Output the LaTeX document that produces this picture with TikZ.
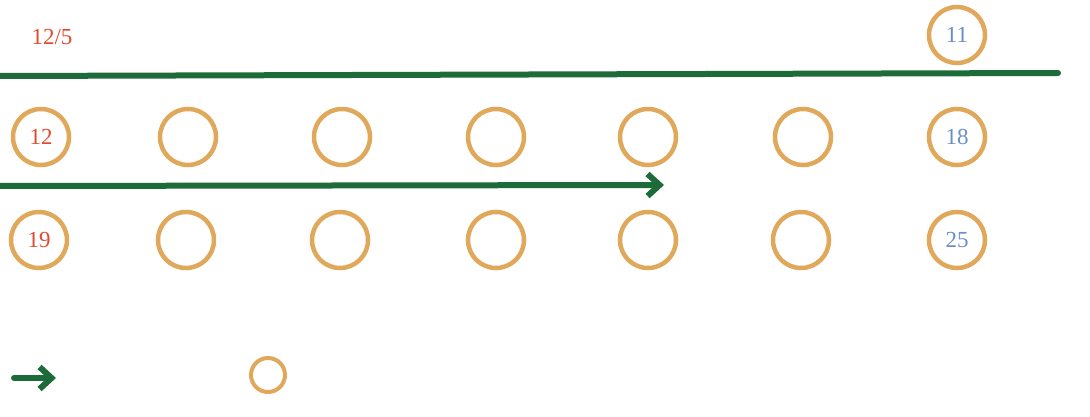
\documentclass[tikz,border=0pt]{standalone}
\usepackage{fontspec}
\setmainfont{Liberation Serif}
\usepackage{tikz}
\usetikzlibrary{arrows.meta}
\definecolor{ringorange}{HTML}{E0A85A}
\definecolor{brushgreen}{HTML}{1E6B3A}
\definecolor{daired}{HTML}{E04B2F}
\definecolor{dayblue}{HTML}{6A8FC4}
\tikzset{
  daytext/.style={font=\fontsize{23}{26}\selectfont},
  ring/.style={circle, draw=ringorange, line width=4.5pt, minimum size=56pt, inner sep=0pt, daytext},
  brush/.style={draw=brushgreen, line width=6pt, line cap=round},
  brusharrow/.style={brush, -{Straight Barb[length=12pt, width=22pt]}},
}
\begin{document}
\begin{tikzpicture}[x=1pt, y=-1pt]
\useasboundingbox (0,0) rectangle (1090,417);

% month label and top row
	\node[text=daired, daytext] (month) at (52,37) {12/5};
	\node[ring, text=dayblue] (d11) at (957,35) {11};
	\coordinate (topL) at (0,76);
	\coordinate (topR) at (1058,73);
	\draw[brush] (topL) -- (topR);

% weeks
	\node[ring, text=daired] (d12) at (41,137) {12};
	\foreach \i/\x in {1/188, 2/342, 3/496, 4/648, 5/803}
		\node[ring] (wa\i) at (\x,137) {};
	\node[ring, text=dayblue] (d18) at (957,137) {18};

	\node[ring, text=daired] (d19) at (39,240) {19};
	\foreach \i/\x in {1/186, 2/340, 3/496, 4/648, 5/801}
		\node[ring] (wb\i) at (\x,240) {};
	\node[ring, text=dayblue] (d25) at (957,240) {25};

% arrow
	\coordinate (arrL) at (0,186);
	\coordinate (arrR) at (664,185);
	\draw[brusharrow] (arrL) -- (arrR);

% legend
	\coordinate (legL) at (14,378);
	\coordinate (legR) at (56,378);
	\draw[brusharrow] (legL) -- (legR);
	\node[ring, minimum size=34pt, line width=4pt] (legring) at (268,375) {};
\end{tikzpicture}
\end{document}
